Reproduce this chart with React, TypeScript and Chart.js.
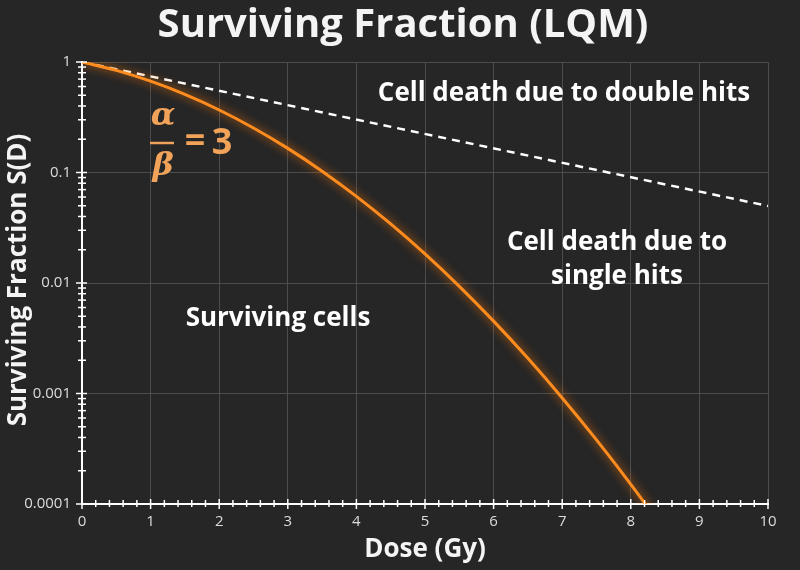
import React, { useEffect, useRef } from "react";
import { Chart, registerables } from "chart.js";

Chart.register(...registerables);

// Dose (Gy) and surviving fraction (alpha/beta = 3)
const doseValues = [0, 0.5, 1, 1.5, 2, 2.5, 3, 3.5, 4, 4.5, 5, 5.5, 6, 6.5, 7, 7.5, 8, 8.5];
const survivingFraction = [
  1, 0.8395, 0.6703, 0.5092, 0.3679, 0.2528, 0.1653, 0.1028, 0.0608, 0.03422,
  0.01832, 0.00933, 0.004517, 0.002081, 0.000912, 0.00038, 0.0001507, 0.0000569,
];
// Single-hit (linear) component, dashed line
const singleHitDose = [0, 10];
const singleHitFraction = [1, 0.0498];

const xTickValues = [0, 1, 2, 3, 4, 5, 6, 7, 8, 9, 10];
const yTickValues = [0.0001, 0.001, 0.01, 0.1, 1];
const yTickLabels = ["0.0001", "0.001", "0.01", "0.1", "1"];

const BG = "#262626";
const FONT = "'Open Sans', Lato, sans-serif";
const ORANGE_TEXT = "#f2a35a";

const decorPlugin = {
  id: "decor",
  beforeDatasetDraw(chart: any, args: any) {
    const ctx = chart.ctx;
    ctx.save();
    if (args.index === 0) {
      ctx.shadowColor = "rgba(255,120,0,0.9)";
      ctx.shadowBlur = 10;
    }
  },
  afterDatasetDraw(chart: any) {
    chart.ctx.restore();
  },
  afterDraw(chart: any) {
    const ctx = chart.ctx;
    const xs = chart.scales.x;
    const ys = chart.scales.y;
    const ca = chart.chartArea;
    ctx.save();
    ctx.strokeStyle = "#ffffff";
    ctx.lineWidth = 1.5;
    // y minor/major ticks
    for (let k = -4; k <= 0; k++) {
      for (let m = 1; m <= 9; m++) {
        const v = m * Math.pow(10, k);
        if (v > 1.0001) continue;
        const py = ys.getPixelForValue(v);
        const major = m === 1;
        ctx.beginPath();
        ctx.moveTo(ca.left - (major ? 6 : 4), py);
        ctx.lineTo(ca.left + (major ? 5 : 4), py);
        ctx.stroke();
      }
    }
    // x ticks every 0.2
    for (let i = 0; i <= 50; i++) {
      const v = i * 0.2;
      const px = xs.getPixelForValue(v);
      const major = i % 5 === 0;
      ctx.beginPath();
      ctx.moveTo(px, ca.bottom - (major ? 5 : 4));
      ctx.lineTo(px, ca.bottom + (major ? 5 : 3));
      ctx.stroke();
    }
    // Titles
    ctx.fillStyle = "#f4f4f4";
    ctx.textAlign = "center";
    ctx.textBaseline = "middle";
    ctx.font = `bold 40px ${FONT}`;
    ctx.fillText("Surviving Fraction (LQM)", 403, 26);
    ctx.font = `bold 26px ${FONT}`;
    ctx.fillText("Dose (Gy)", 425, 550);
    ctx.save();
    ctx.translate(19, 280);
    ctx.rotate(-Math.PI / 2);
    ctx.fillText("Surviving Fraction S(D)", 0, 0);
    ctx.restore();
    // Annotations
    ctx.fillStyle = "#ffffff";
    ctx.font = `bold 26px ${FONT}`;
    ctx.fillText("Cell death due to double hits", 564, 94);
    ctx.fillText("Cell death due to", 617, 243);
    ctx.fillText("single hits", 617, 277);
    ctx.fillText("Surviving cells", 278, 319);
    // alpha / beta = 3
    ctx.fillStyle = ORANGE_TEXT;
    ctx.strokeStyle = ORANGE_TEXT;
    ctx.font = `italic bold 32px 'DejaVu Serif', serif`;
    ctx.fillText("\u03b1", 163, 117);
    ctx.fillText("\u03b2", 163, 167);
    ctx.lineWidth = 2.5;
    ctx.beginPath();
    ctx.moveTo(150, 143);
    ctx.lineTo(174, 143);
    ctx.stroke();
    ctx.font = `bold 36px ${FONT}`;
    ctx.fillText("=", 195, 142);
    ctx.fillText("3", 222, 144);
    ctx.restore();
  },
};

export default function App() {
  const ref = useRef<HTMLCanvasElement | null>(null);
  useEffect(() => {
    document.body.style.margin = "0";
    document.body.style.background = BG;
    const canvas = ref.current!;
    const chart = new Chart(canvas, {
      type: "line",
      data: {
        datasets: [
          {
            label: "LQ",
            data: doseValues.map((d, i) => ({ x: d, y: survivingFraction[i] })),
            borderColor: "#ff8c1f",
            borderWidth: 3,
            pointRadius: 0,
            cubicInterpolationMode: "monotone",
            fill: false,
          },
          {
            label: "single",
            data: singleHitDose.map((d, i) => ({ x: d, y: singleHitFraction[i] })),
            borderColor: "#ffffff",
            borderWidth: 2.5,
            borderDash: [8, 6],
            pointRadius: 0,
            fill: false,
          },
        ],
      },
      options: {
        animation: false,
        responsive: false,
        maintainAspectRatio: false,
        layout: { padding: { top: 62, right: 32, left: 0, bottom: 0 } },
        plugins: { legend: { display: false }, title: { display: false }, tooltip: { enabled: false } },
        scales: {
          x: {
            type: "linear",
            min: 0,
            max: 10,
            afterBuildTicks: (s: any) => {
              s.ticks = xTickValues.map((v) => ({ value: v }));
            },
            afterFit: (s: any) => {
              s.height = 66;
            },
            ticks: {
              color: "#dcdcdc",
              font: { family: FONT, size: 15 },
              padding: 9,
              maxRotation: 0,
            },
            grid: { color: "#4c4c4c", lineWidth: 1, drawTicks: false },
            border: { color: "#ffffff", width: 2 },
          },
          y: {
            type: "logarithmic",
            min: 0.0001,
            max: 1,
            afterBuildTicks: (s: any) => {
              s.ticks = yTickValues.map((v) => ({ value: v }));
            },
            afterFit: (s: any) => {
              s.width = 82;
            },
            ticks: {
              color: "#dcdcdc",
              font: { family: FONT, size: 15 },
              padding: 11,
              autoSkip: false,
              callback: (v: any) => {
                const i = yTickValues.findIndex((t) => Math.abs(t - v) / t < 1e-6);
                return i >= 0 ? yTickLabels[i] : "";
              },
            },
            grid: { color: "#4c4c4c", lineWidth: 1, drawTicks: false },
            border: { color: "#ffffff", width: 2 },
          },
        },
      },
      plugins: [decorPlugin],
    });
    return () => chart.destroy();
  }, []);
  return (
    <div style={{ position: "fixed", left: 0, top: 0, width: 800, height: 570, background: BG }}>
      <canvas ref={ref} width={800} height={570} style={{ width: 800, height: 570 }} />
    </div>
  );
}
